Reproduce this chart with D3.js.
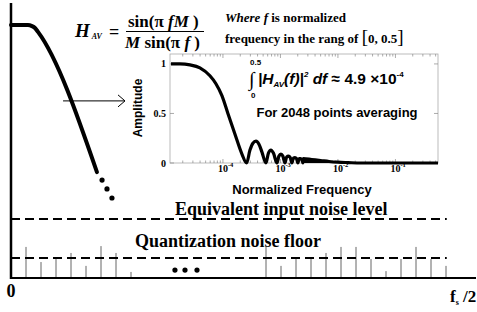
<!DOCTYPE html>
<html>
<head>
<meta charset="utf-8">
<script src="https://cdn.jsdelivr.net/npm/d3@7"></script>
<style>
	body { margin: 0; background: #fff; }
	svg { display: block; }
</style>
</head>
<body>
<svg id="chart" width="477" height="312"></svg>
<script>
// croquis principal : abscisse en cases de fréquence, ordonnée en niveau relatif
const respBins = [0, 1.13, 1.4, 1.6, 1.8, 5.73];
const respLevels = [92, 92, 91.6, 90.9, 89.5, 38.5];
const dotBins = [6.07, 6.4, 6.73];
const dotLevels = [35.6, 32.4, 29.1];
const gapBins = [10.93, 11.6, 12.4];
const gapLevels = [2.9, 2.9, 2.9];
const stemBins = [1, 2, 3, 4, 5, 6, 7, 8, 17, 18, 19, 20, 21, 22, 23, 24, 25, 26, 27, 28, 29];
const stemLevels = [11.3, 5.8, 6.9, 9.1, 4.4, 11.6, 9.1, 2.2,
	11.3, 4.4, 6.9, 6.9, 9.1, 11.3, 11.3, 6.9, 2.5, 6.9, 11.3, 6.9, 4.4];
const equivLevel = 21.5;
const quantLevel = 7.3;
const lineEndBin = 29.05;

// encart : réponse du moyenneur
const freqs = [1.25e-5, 1.79e-5, 2.67e-5, 3.98e-5, 5.94e-5, 7.55e-5, 9.6e-5, 1.22e-4, 1.62e-4, 2.14e-4,
	2.58e-4, 2.95e-4, 3.32e-4, 3.75e-4, 4.23e-4, 4.77e-4, 5.6e-4, 6.18e-4, 6.84e-4, 7.55e-4,
	8.69e-4, 9.42e-4, 1.02e-3, 1.10e-3, 1.20e-3, 1.28e-3, 1.38e-3, 1.48e-3, 1.58e-3, 1.68e-3,
	1.79e-3, 1.90e-3, 2.01e-3, 2.12e-3, 2.23e-3, 2.35e-3, 2.46e-3];
const amps = [1.0, 1.0, 0.99, 0.96, 0.88, 0.80, 0.68, 0.50, 0.29, 0.09,
	0, 0.13, 0.20, 0.22, 0.19, 0.11, 0, 0.10, 0.13, 0.10,
	0, 0.07, 0.09, 0.07, 0, 0.06, 0.07, 0.055, 0, 0.05,
	0.055, 0.045, 0, 0.045, 0.045, 0.035, 0];
const tailFreqs = [2.46e-3, 2.5e-3, 3.5e-3, 5e-3, 7e-3, 1e-2, 1.5e-2, 2.5e-2, 0.55];
const tailAmps = [0, 0.045, 0.035, 0.025, 0.015, 0.008, 0.004, 0, 0];
const xTicks = [1e-4, 1e-3, 1e-2, 1e-1];
const xTickExp = ["-4", "-3", "-2", "-1"];
const yTicks = [0, 0.5, 1];
const yTickLabels = ["0", "0.5", "1"];

const serif = "'Liberation Serif','Times New Roman',serif";
const sans = "'Liberation Sans',Arial,sans-serif";
let svg = d3.select("#chart");

let x = d3.scaleLinear().domain([0, 31]).range([11, 476]);
let y = d3.scaleLinear().domain([0, 100]).range([278, 3]);

// raies de bruit
svg.append("g")
	.selectAll("line")
	.data(stemBins.map((b, i) => [b, stemLevels[i]]))
	.join("line")
	.attr("x1", d => x(d[0])).attr("x2", d => x(d[0]))
	.attr("y1", y(0)).attr("y2", d => y(d[1]))
	.attr("stroke", "#666")
	.attr("stroke-width", 1);

// niveaux en pointillés
for (let lv of [equivLevel, quantLevel]) {
	svg.append("line")
		.attr("x1", x(0)).attr("x2", x(lineEndBin))
		.attr("y1", y(lv)).attr("y2", y(lv))
		.attr("stroke", "#000")
		.attr("stroke-width", 2)
		.attr("stroke-dasharray", "9,5");
}

// axes du croquis
svg.append("line")
	.attr("x1", x(0)).attr("x2", x(0))
	.attr("y1", y(0) + 1).attr("y2", y(100))
	.attr("stroke", "#000").attr("stroke-width", 2.5);
svg.append("line")
	.attr("x1", x(0)).attr("x2", x(31))
	.attr("y1", y(0)).attr("y2", y(0))
	.attr("stroke", "#000").attr("stroke-width", 2);

// réponse schématique
svg.append("path")
	.datum(respBins.map((b, i) => [b, respLevels[i]]))
	.attr("d", d3.line().x(d => x(d[0])).y(d => y(d[1])).curve(d3.curveMonotoneX))
	.attr("fill", "none")
	.attr("stroke", "#000")
	.attr("stroke-width", 4)
	.attr("stroke-linecap", "round");
svg.append("g")
	.selectAll("circle")
	.data(dotBins.map((b, i) => [b, dotLevels[i]]).concat(gapBins.map((b, i) => [b, gapLevels[i]])))
	.join("circle")
	.attr("cx", d => x(d[0]))
	.attr("cy", d => y(d[1]))
	.attr("r", 2.6);

// flèche vers l'encart
let ay = y(64.4);
svg.append("line")
	.attr("x1", x(3.47)).attr("x2", x(7.6))
	.attr("y1", ay).attr("y2", ay)
	.attr("stroke", "#000").attr("stroke-width", 1);
svg.append("path")
	.attr("d", `M${x(7.6) - 7},${ay - 6}L${x(7.6)},${ay}L${x(7.6) - 7},${ay + 6}`)
	.attr("fill", "none").attr("stroke", "#000").attr("stroke-width", 1);

// textes du croquis
svg.append("text")
	.attr("x", 175).attr("y", 215)
	.style("font", `bold 18px ${serif}`)
	.text("Equivalent input noise level");
svg.append("text")
	.attr("x", 135).attr("y", 247)
	.style("font", `bold 18px ${serif}`)
	.text("Quantization noise floor");
svg.append("text")
	.attr("x", x(0)).attr("y", 297)
	.attr("text-anchor", "middle")
	.style("font", `bold 18px ${serif}`)
	.text("0");
let fs = svg.append("text")
	.attr("x", 450).attr("y", 302)
	.style("font", `bold 17px ${serif}`);
fs.append("tspan").text("f");
fs.append("tspan").attr("font-size", 8).attr("dy", 3).text("s");
fs.append("tspan").attr("dy", -3).text(" /2");

// formule
let hav = svg.append("text")
	.attr("x", 75).attr("y", 37)
	.style("font", `italic bold 19px ${serif}`);
hav.append("tspan").text("H");
hav.append("tspan").attr("font-size", 8).attr("dx", 2).attr("dy", 2).text("AV");
svg.append("text")
	.attr("x", 109).attr("y", 38)
	.style("font", `bold 18px ${serif}`)
	.text("=");
let num = svg.append("text")
	.attr("x", 128).attr("y", 27)
	.style("font", `bold 17px ${serif}`);
num.append("tspan").text("sin(π ");
num.append("tspan").attr("font-style", "italic").text("fM");
num.append("tspan").text(" )");
svg.append("line")
	.attr("x1", 126).attr("x2", 204)
	.attr("y1", 31.5).attr("y2", 31.5)
	.attr("stroke", "#000").attr("stroke-width", 1.2);
let den = svg.append("text")
	.attr("x", 125).attr("y", 48)
	.style("font", `bold 17px ${serif}`);
den.append("tspan").attr("font-style", "italic").text("M");
den.append("tspan").text(" sin(π ");
den.append("tspan").attr("font-style", "italic").text("f");
den.append("tspan").text(" )");

let w1 = svg.append("text")
	.attr("x", 225).attr("y", 22)
	.style("font", `bold 13px ${serif}`);
w1.append("tspan").attr("font-style", "italic").text("Where ");
w1.append("tspan").attr("font-style", "italic").text("f");
w1.append("tspan").text(" is normalized");
let w2 = svg.append("text")
	.attr("x", 225).attr("y", 43)
	.style("font", `bold 13px ${serif}`);
w2.append("tspan").text("frequency in the rang of ");
w2.append("tspan").attr("font-size", 19).attr("font-weight", "normal").text("[");
w2.append("tspan").text("0, 0.5");
w2.append("tspan").attr("font-size", 19).attr("font-weight", "normal").text("]");

// encart
let ix = d3.scaleLog().domain([1.2e-5, 0.55]).range([170, 438]);
let iy = d3.scaleLinear().domain([0, 1.1]).range([163, 54]);
let [x0, x1] = ix.range(), [y0, y1] = iy.range();
svg.append("rect")
	.attr("x", x0).attr("y", y1)
	.attr("width", x1 - x0).attr("height", y0 - y1)
	.attr("fill", "#fff")
	.attr("stroke", "#aaa")
	.attr("stroke-width", 0.8);

let minors = ix.ticks().filter(t => !xTicks.includes(t));
for (let [pos, dir] of [[y0, -1], [y1, 1]]) {
	svg.append("g")
		.selectAll("line")
		.data(minors.map(t => [t, 2.5]).concat(xTicks.map(t => [t, 4])))
		.join("line")
		.attr("x1", d => ix(d[0])).attr("x2", d => ix(d[0]))
		.attr("y1", pos).attr("y2", d => pos + dir * d[1])
		.attr("stroke", "#888").attr("stroke-width", 0.7);
}
for (let [pos, dir] of [[x0, 1], [x1, -1]]) {
	svg.append("g")
		.selectAll("line")
		.data(yTicks)
		.join("line")
		.attr("x1", pos).attr("x2", pos + dir * 4)
		.attr("y1", d => iy(d)).attr("y2", d => iy(d))
		.attr("stroke", "#888").attr("stroke-width", 0.7);
}

svg.append("g")
	.selectAll("text")
	.data(yTicks)
	.join("text")
	.attr("x", x0 - 4)
	.attr("y", d => iy(d) + 3.5)
	.attr("text-anchor", "end")
	.style("font", `bold 10px ${serif}`)
	.text((d, i) => yTickLabels[i]);
svg.append("g")
	.selectAll("text")
	.data(xTicks)
	.join("text")
	.attr("x", d => ix(d) - 5)
	.attr("y", 172)
	.style("font", `bold 10px ${serif}`)
	.each(function(d, i) {
		let t = d3.select(this);
		t.append("tspan").text("10");
		t.append("tspan").attr("font-size", 6.5).attr("dy", -5).text(xTickExp[i]);
	});

// courbe de l'encart
let iline = d3.line().x(d => ix(d[0])).y(d => iy(d[1]));
let tail = tailFreqs.map((f, i) => [f, tailAmps[i]]);
svg.append("path")
	.datum(tail)
	.attr("d", d3.area().x(d => ix(d[0])).y0(iy(0)).y1(d => iy(d[1])).curve(d3.curveMonotoneX))
	.attr("fill", "#000");
svg.append("path")
	.datum(freqs.map((f, i) => [f, amps[i]]).concat(tail))
	.attr("d", iline.curve(d3.curveMonotoneX))
	.attr("fill", "none")
	.attr("stroke", "#000")
	.attr("stroke-width", 3.2)
	.attr("stroke-linejoin", "round");

svg.append("text")
	.attr("transform", `translate(142,108) rotate(-90)`)
	.attr("text-anchor", "middle")
	.style("font", `bold 12px ${sans}`)
	.text("Amplitude");
svg.append("text")
	.attr("x", 302).attr("y", 194)
	.attr("text-anchor", "middle")
	.style("font", `bold 13px ${sans}`)
	.text("Normalized Frequency");

// intégrale
svg.append("text")
	.attr("x", 249).attr("y", 86)
	.style("font", `20px ${serif}`)
	.text("∫");
svg.append("text")
	.attr("x", 250).attr("y", 65)
	.style("font", `bold 8px ${sans}`)
	.text("0.5");
svg.append("text")
	.attr("x", 251).attr("y", 98)
	.style("font", `bold 8px ${sans}`)
	.text("0");
let eq = svg.append("text")
	.attr("x", 258).attr("y", 84)
	.style("font", `italic bold 15.5px ${sans}`);
eq.append("tspan").text("|H");
eq.append("tspan").attr("font-size", 8).attr("dy", 3).text("AV");
eq.append("tspan").attr("dy", -3).text("(f)|");
eq.append("tspan").attr("font-size", 8).attr("dy", -7).text("2");
eq.append("tspan").attr("dy", 7).text(" df ");
eq.append("tspan").attr("font-style", "normal").text("≈ 4.9 ×10");
eq.append("tspan").attr("font-style", "normal").attr("font-size", 8).attr("dy", -7).text("-4");
svg.append("text")
	.attr("x", 337).attr("y", 117)
	.attr("text-anchor", "middle")
	.style("font", `bold 13px ${sans}`)
	.text("For 2048 points averaging");
</script>
</body>
</html>
